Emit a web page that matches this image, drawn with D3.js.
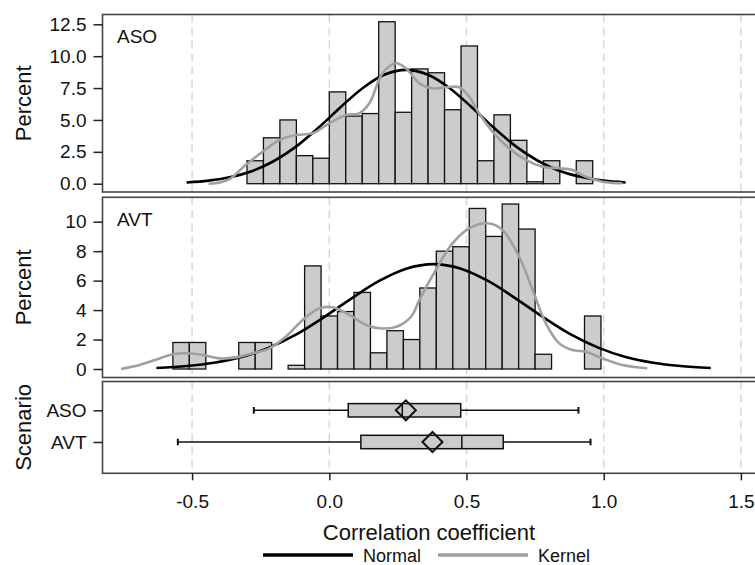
<!DOCTYPE html>
<html>
<head>
<meta charset="utf-8">
<script src="https://cdn.jsdelivr.net/npm/d3@7"></script>
<style>
  html, body { margin: 0; padding: 0; background: #fff; }
  svg { display: block; font-family: "Liberation Sans", Arial, Helvetica, sans-serif; }
</style>
</head>
<body>
<svg id="chart" width="755" height="565"></svg>
<script>
// ---------------- data ----------------
const binWidth = 0.06;
// ASO histogram (lower bin edges, percent)
const asoBinStart = [-0.30,-0.24,-0.18,-0.12,-0.06,0.00,0.06,0.12,0.18,0.24,0.30,0.36,0.42,0.48,0.54,0.60,0.66,0.72,0.78,0.84,0.90];
const asoPercent  = [1.8,3.6,5.0,2.2,2.0,7.2,5.3,5.5,12.7,5.6,9.0,8.7,5.8,10.8,1.8,5.4,3.4,0.15,1.8,0,1.8];
// AVT histogram
const avtBinStart = [-0.57,-0.51,-0.45,-0.39,-0.33,-0.27,-0.21,-0.15,-0.09,-0.03,0.03,0.09,0.15,0.21,0.27,0.33,0.39,0.45,0.51,0.57,0.63,0.69,0.75,0.81,0.87,0.93];
const avtPercent  = [1.8,1.8,0,0,1.8,1.8,0,0.25,7.0,3.6,3.9,5.2,1.1,2.6,2.0,5.5,8.0,8.3,10.9,9.0,11.2,9.5,1.0,0,0,3.6];

// Normal density curves (percent scale)
const asoNormalX = [-0.52,-0.44,-0.36,-0.28,-0.20,-0.12,-0.04,0.04,0.12,0.20,0.28,0.36,0.44,0.52,0.60,0.68,0.76,0.84,0.92,1.00,1.08];
const asoNormalY = [0.10,0.24,0.52,1.00,1.80,2.93,4.38,5.98,7.47,8.54,8.93,8.54,7.47,5.98,4.38,2.93,1.80,1.00,0.52,0.24,0.10];
const avtNormalX = [-0.63,-0.52,-0.42,-0.32,-0.22,-0.12,-0.02,0.08,0.18,0.28,0.38,0.48,0.58,0.68,0.78,0.88,0.98,1.08,1.18,1.28,1.39];
const avtNormalY = [0.07,0.20,0.42,0.81,1.45,2.35,3.51,4.78,5.96,6.81,7.12,6.81,5.96,4.78,3.51,2.35,1.45,0.81,0.42,0.20,0.07];

// Kernel density curves
const asoKernelX = [-0.44,-0.40,-0.364,-0.303,-0.243,-0.182,-0.121,-0.061,0.0,0.061,0.109,0.146,0.194,0.243,0.279,0.328,0.376,0.425,0.473,0.510,0.546,0.595,0.655,0.716,0.777,0.838,0.886,0.935,0.995,1.068];
const asoKernelY = [0.0,0.1,0.35,1.5,2.5,3.43,3.82,3.95,4.74,5.39,5.52,6.3,8.66,9.44,9.05,7.87,7.48,7.56,7.56,6.82,5.52,4.08,2.78,1.86,1.33,1.21,1.07,0.55,0.16,0.03];
const avtKernelX = [-0.759,-0.692,-0.619,-0.571,-0.522,-0.461,-0.401,-0.34,-0.279,-0.218,-0.158,-0.097,-0.036,0.012,0.073,0.134,0.19,0.25,0.30,0.328,0.388,0.449,0.510,0.577,0.631,0.692,0.741,0.789,0.838,0.886,0.935,0.995,1.068,1.159];
const avtKernelY = [0.0,0.27,0.72,1.0,1.07,0.95,0.72,0.79,1.07,1.4,2.2,3.33,4.12,4.19,3.67,2.99,2.75,2.9,3.6,4.68,6.72,8.53,9.55,9.89,9.44,7.62,5.36,3.1,1.74,1.29,1.17,0.72,0.27,0.05];

// Box plot
const scenarios = ["ASO","AVT"];
const boxMin    = [-0.275,-0.552];
const boxQ1     = [0.069,0.115];
const boxMedian = [0.266,0.483];
const boxQ3     = [0.479,0.634];
const boxMax    = [0.908,0.952];
const boxMean   = [0.279,0.376];

const xTicks = [-0.5,0.0,0.5,1.0,1.5];
const xTickLabels = ["-0.5","0.0","0.5","1.0","1.5"];
const asoYTicks = [0,2.5,5,7.5,10,12.5];
const avtYTicks = [0,2,4,6,8,10];
const legendLabels = ["Normal","Kernel"];

// ---------------- layout ----------------
const svg = d3.select("#chart");
const left = 102.5, right = 770;
const x = d3.scaleLinear().domain([-0.5,1.5]).range([192.1,740.9]);

const panels = [
  {name:"ASO", top:14.5, bottom:192, y:d3.scaleLinear().domain([0,12.5]).range([183.7,24.3]),
   ticks:asoYTicks, fmt:d3.format(".1f"), bins:asoBinStart, pct:asoPercent,
   nx:asoNormalX, ny:asoNormalY, kx:asoKernelX, ky:asoKernelY},
  {name:"AVT", top:197.3, bottom:377.5, y:d3.scaleLinear().domain([0,10]).range([369,221.7]),
   ticks:avtYTicks, fmt:d3.format("d"), bins:avtBinStart, pct:avtPercent,
   nx:avtNormalX, ny:avtNormalY, kx:avtKernelX, ky:avtKernelY}
];
const boxTop = 381.5, boxBottom = 473.3;
const yCat = d3.scalePoint().domain(scenarios).range([410.3,442]);

const fontTick = 19, fontLabel = 22, fontLegend = 18;
const borderColor = "#444";
const kernelColor = "#a0a0a0";

function grid(top, bottom) {
  svg.append("g").selectAll("line").data(xTicks).join("line")
    .attr("x1", d => x(d)).attr("x2", d => x(d))
    .attr("y1", top).attr("y2", bottom)
    .attr("stroke", "#d8d8d8").attr("stroke-width", 1.5)
    .attr("stroke-dasharray", "8,5");
}

function yAxis(scale, ticks, fmt) {
  const g = svg.append("g").attr("transform", `translate(${left},0)`)
    .call(d3.axisLeft(scale).tickValues(ticks).tickFormat(fmt).tickSize(9).tickPadding(7));
  g.select(".domain").remove();
  g.selectAll(".tick line").attr("stroke", "#222").attr("stroke-width", 1.5);
  g.selectAll(".tick text").attr("font-size", fontTick).attr("fill", "#111")
    .attr("font-family", "Liberation Sans, Arial, sans-serif");
}

function yLabel(text, top, bottom) {
  svg.append("text")
    .attr("transform", `translate(31,${(top+bottom)/2}) rotate(-90)`)
    .attr("text-anchor", "middle").attr("font-size", fontLabel).attr("fill", "#111")
    .text(text);
}

const line = d3.line().curve(d3.curveCatmullRom.alpha(0.5));

panels.forEach(p => {
  grid(p.top, p.bottom);
  // bars
  const data = p.bins.map((b,i) => ({x0:b, x1:b+binWidth, v:p.pct[i]})).filter(d => d.v > 0);
  svg.append("g").selectAll("rect").data(data).join("rect")
    .attr("x", d => x(d.x0)).attr("width", d => x(d.x1) - x(d.x0))
    .attr("y", d => p.y(d.v)).attr("height", d => p.y(0) - p.y(d.v))
    .attr("fill", "#cccccc").attr("stroke", "#111").attr("stroke-width", 1.3);
  // normal
  svg.append("path").datum(p.nx.map((v,i) => [x(v), p.y(p.ny[i])]))
    .attr("d", line).attr("fill", "none").attr("stroke", "#000").attr("stroke-width", 2.6);
  // kernel
  svg.append("path").datum(p.kx.map((v,i) => [x(v), p.y(p.ky[i])]))
    .attr("d", line).attr("fill", "none").attr("stroke", kernelColor).attr("stroke-width", 2.6);
  // border
  svg.append("rect").attr("x", left).attr("y", p.top).attr("width", right-left).attr("height", p.bottom-p.top)
    .attr("fill", "none").attr("stroke", borderColor).attr("stroke-width", 1.6);
  yAxis(p.y, p.ticks, p.fmt);
  yLabel("Percent", p.top, p.bottom);
  svg.append("text").attr("x", 117).attr("y", p.top + 28.5)
    .attr("font-size", fontTick).attr("fill", "#111").text(p.name);
});

// ---------------- box plot panel ----------------
grid(boxTop, boxBottom);
const bh = 6.7;
const boxes = scenarios.map((s,i) => ({s, min:boxMin[i], q1:boxQ1[i], med:boxMedian[i], q3:boxQ3[i], max:boxMax[i], mean:boxMean[i]}));
const bg = svg.append("g");
boxes.forEach(d => {
  const cy = yCat(d.s);
  bg.append("line").attr("x1", x(d.min)).attr("x2", x(d.q1)).attr("y1", cy).attr("y2", cy)
    .attr("stroke", "#111").attr("stroke-width", 1.5);
  bg.append("line").attr("x1", x(d.q3)).attr("x2", x(d.max)).attr("y1", cy).attr("y2", cy)
    .attr("stroke", "#111").attr("stroke-width", 1.5);
  [d.min, d.max].forEach(v => bg.append("line").attr("x1", x(v)).attr("x2", x(v))
    .attr("y1", cy-3.3).attr("y2", cy+3.3).attr("stroke", "#111").attr("stroke-width", 2));
  bg.append("rect").attr("x", x(d.q1)).attr("width", x(d.q3)-x(d.q1))
    .attr("y", cy-bh).attr("height", 2*bh)
    .attr("fill", "#cccccc").attr("stroke", "#111").attr("stroke-width", 1.5);
  bg.append("line").attr("x1", x(d.med)).attr("x2", x(d.med)).attr("y1", cy-bh).attr("y2", cy+bh)
    .attr("stroke", "#111").attr("stroke-width", 1.5);
  const mx = x(d.mean), r = 10;
  bg.append("path").attr("d", `M${mx-r},${cy}L${mx},${cy-r}L${mx+r},${cy}L${mx},${cy+r}Z`)
    .attr("fill", "none").attr("stroke", "#111").attr("stroke-width", 2);
});
svg.append("rect").attr("x", left).attr("y", boxTop).attr("width", right-left).attr("height", boxBottom-boxTop)
  .attr("fill", "none").attr("stroke", borderColor).attr("stroke-width", 1.6);
yAxis(yCat, scenarios, d => d);
yLabel("Scenario", boxTop, boxBottom);

// x axis
const xg = svg.append("g").attr("transform", `translate(0,${boxBottom})`)
  .call(d3.axisBottom(x).tickValues(xTicks).tickFormat((d,i) => xTickLabels[i]).tickSize(7).tickPadding(14));
xg.select(".domain").remove();
xg.selectAll(".tick line").attr("stroke", "#222").attr("stroke-width", 1.5);
xg.selectAll(".tick text").attr("font-size", fontTick).attr("fill", "#111")
  .attr("font-family", "Liberation Sans, Arial, sans-serif");

svg.append("text").attr("x", 429).attr("y", 540).attr("text-anchor", "middle")
  .attr("font-size", fontLabel).attr("fill", "#111").text("Correlation coefficient");

// legend
const legend = [
  {label: legendLabels[0], color: "#000", x0: 263},
  {label: legendLabels[1], color: kernelColor, x0: 438}
];
legend.forEach(l => {
  svg.append("line").attr("x1", l.x0).attr("x2", l.x0 + 90).attr("y1", 555).attr("y2", 555)
    .attr("stroke", l.color).attr("stroke-width", 3.5);
  svg.append("text").attr("x", l.x0 + 100).attr("y", 562).attr("font-size", fontLegend)
    .attr("fill", "#111").text(l.label);
});
</script>
</body>
</html>
